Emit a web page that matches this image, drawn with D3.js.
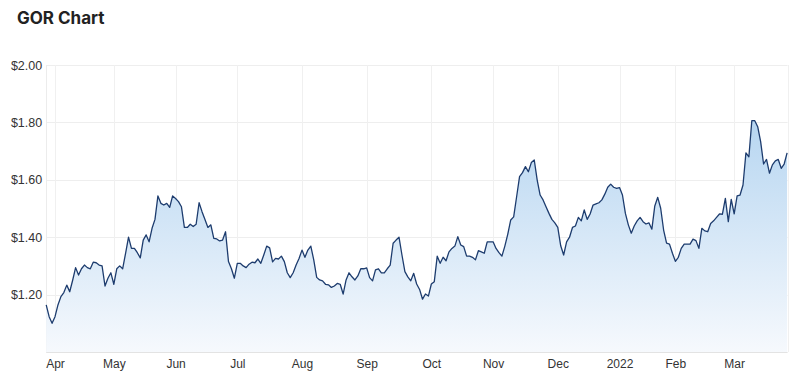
<!DOCTYPE html>
<html>
<head>
<meta charset="utf-8">
<script src="https://cdn.jsdelivr.net/npm/d3@7"></script>
<style>
  html, body { margin: 0; padding: 0; background: #ffffff; }
  svg { display: block; }
</style>
</head>
<body>
<svg id="chart" width="800" height="382"></svg>
<script>
// ---- Data (daily closes, trading-day order, late Mar 2021 -> late Mar 2022) ----
const prices = [
  1.164, 1.123, 1.100, 1.123, 1.164, 1.193, 1.207, 1.233, 1.210, 1.250,
  1.294, 1.268, 1.290, 1.303, 1.294, 1.290, 1.313, 1.311, 1.303, 1.300,
  1.230, 1.257, 1.276, 1.236, 1.290, 1.300, 1.290, 1.344, 1.400, 1.361,
  1.361, 1.346, 1.328, 1.390, 1.408, 1.384, 1.431, 1.462, 1.544, 1.518,
  1.512, 1.518, 1.504, 1.544, 1.535, 1.524, 1.506, 1.434, 1.434, 1.445,
  1.437, 1.445, 1.520, 1.489, 1.462, 1.434, 1.443, 1.396, 1.394, 1.387,
  1.390, 1.419, 1.315, 1.290, 1.257, 1.309, 1.309, 1.300, 1.294, 1.306,
  1.313, 1.311, 1.324, 1.309, 1.338, 1.369, 1.363, 1.314, 1.326, 1.324,
  1.334, 1.315, 1.276, 1.259, 1.276, 1.303, 1.326, 1.355, 1.330, 1.355,
  1.369, 1.321, 1.260, 1.251, 1.248, 1.236, 1.234, 1.225, 1.230, 1.239,
  1.236, 1.202, 1.251, 1.276, 1.262, 1.251, 1.265, 1.290, 1.290, 1.293,
  1.259, 1.248, 1.286, 1.290, 1.276, 1.276, 1.290, 1.303, 1.379, 1.390,
  1.400, 1.338, 1.280, 1.262, 1.248, 1.274, 1.237, 1.218, 1.184, 1.202,
  1.195, 1.237, 1.245, 1.334, 1.309, 1.330, 1.318, 1.349, 1.361, 1.369,
  1.402, 1.373, 1.367, 1.334, 1.334, 1.330, 1.321, 1.353, 1.349, 1.344,
  1.384, 1.384, 1.384, 1.361, 1.346, 1.334, 1.369, 1.411, 1.460, 1.471,
  1.541, 1.611, 1.625, 1.646, 1.628, 1.660, 1.669, 1.599, 1.547, 1.530,
  1.506, 1.483, 1.462, 1.450, 1.434, 1.370, 1.338, 1.384, 1.400, 1.434,
  1.439, 1.469, 1.457, 1.495, 1.462, 1.481, 1.512, 1.516, 1.520, 1.530,
  1.550, 1.574, 1.585, 1.574, 1.570, 1.573, 1.547, 1.483, 1.443, 1.414,
  1.439, 1.457, 1.469, 1.454, 1.446, 1.450, 1.428, 1.509, 1.539, 1.501,
  1.425, 1.379, 1.376, 1.344, 1.316, 1.330, 1.361, 1.376, 1.376, 1.376,
  1.393, 1.388, 1.361, 1.431, 1.422, 1.419, 1.448, 1.457, 1.469, 1.481,
  1.480, 1.535, 1.454, 1.532, 1.481, 1.544, 1.547, 1.582, 1.694, 1.680,
  1.806, 1.806, 1.785, 1.733, 1.655, 1.671, 1.623, 1.652, 1.666, 1.671,
  1.640, 1.655, 1.694
];

// month labels and the trading-day index where each month starts
const monthLabels = ["Apr", "May", "Jun", "Jul", "Aug", "Sep", "Oct", "Nov", "Dec", "2022", "Feb", "Mar"];
const monthIndex  = [3, 23, 44, 65, 87, 109, 131, 152, 174, 195, 214, 234];

// y ticks
const yTicks = [1.2, 1.4, 1.6, 1.8, 2.0];
const yDomain = [1.0, 2.0];

const chartTitle = "GOR Chart";

// ---- Layout ----
const svg = d3.select("#chart");
const plotL = 46.2, plotR = 787.6, plotT = 65, plotB = 352;

const x = d3.scaleLinear().domain([0, prices.length - 1]).range([plotL, plotR - 0.5]);
const y = d3.scaleLinear().domain(yDomain).range([plotB, plotT]);

// title
svg.append("text")
  .attr("x", 17).attr("y", 24)
  .attr("font-family", "Inter, 'Open Sans', sans-serif")
  .attr("font-weight", 700)
  .attr("font-size", 17)
  .attr("fill", "#222")
  .text(chartTitle);

// gradient
const defs = svg.append("defs");
const grad = defs.append("linearGradient")
  .attr("id", "areaGrad")
  .attr("gradientUnits", "userSpaceOnUse")
  .attr("x1", 0).attr("x2", 0)
  .attr("y1", y(d3.max(prices))).attr("y2", plotB);
grad.append("stop").attr("offset", "0%").attr("stop-color", "#b7d6f1");
grad.append("stop").attr("offset", "100%").attr("stop-color", "#f6f9fd");

// horizontal gridlines
const gGrid = svg.append("g");
gGrid.selectAll("line.h").data(yTicks).join("line")
  .attr("class", "h")
  .attr("x1", plotL).attr("x2", plotR)
  .attr("y1", d => Math.round(y(d)) + 0.5).attr("y2", d => Math.round(y(d)) + 0.5)
  .attr("stroke", "#eeeeee").attr("stroke-width", 1);

// vertical gridlines
gGrid.selectAll("line.v").data(monthIndex).join("line")
  .attr("class", "v")
  .attr("x1", d => Math.round(x(d)) + 0.5).attr("x2", d => Math.round(x(d)) + 0.5)
  .attr("y1", plotT).attr("y2", plotB)
  .attr("stroke", "#f0f0f0").attr("stroke-width", 1);

// plot edges
gGrid.append("line")
  .attr("x1", Math.round(plotL) + 0.5).attr("x2", Math.round(plotL) + 0.5)
  .attr("y1", plotT).attr("y2", plotB)
  .attr("stroke", "#ececec");
gGrid.append("line")
  .attr("x1", Math.round(plotR) + 0.5).attr("x2", Math.round(plotR) + 0.5)
  .attr("y1", plotT).attr("y2", plotB)
  .attr("stroke", "#f0f0f0");

// area
const area = d3.area()
  .x((d, i) => x(i))
  .y0(plotB)
  .y1(d => y(d));
svg.append("path")
  .datum(prices)
  .attr("d", area)
  .attr("fill", "url(#areaGrad)");

// line
const line = d3.line()
  .x((d, i) => x(i))
  .y(d => y(d));
svg.append("path")
  .datum(prices)
  .attr("d", line)
  .attr("fill", "none")
  .attr("stroke", "#1d3c6e")
  .attr("stroke-width", 1.3)
  .attr("stroke-linejoin", "round");

// bottom axis line
svg.append("line")
  .attr("x1", plotL).attr("x2", plotR)
  .attr("y1", plotB + 0.5).attr("y2", plotB + 0.5)
  .attr("stroke", "#e3e3e3");

// y labels
const yAxis = d3.axisLeft(y).tickValues(yTicks).tickSize(0).tickPadding(4)
  .tickFormat(d => "$" + d3.format(".2f")(d));
const gy = svg.append("g").attr("transform", `translate(${plotL},0)`).call(yAxis);
gy.select(".domain").remove();
gy.selectAll("text")
  .attr("font-family", "'Liberation Sans', Arial, sans-serif")
  .attr("font-size", 12.5)
  .attr("fill", "#333");

// x labels
const xAxis = d3.axisBottom(x).tickValues(monthIndex).tickSize(0).tickPadding(7)
  .tickFormat((d, i) => monthLabels[i]);
const gx = svg.append("g").attr("transform", `translate(0,${plotB})`).call(xAxis);
gx.select(".domain").remove();
gx.selectAll("text")
  .attr("font-family", "'Liberation Sans', Arial, sans-serif")
  .attr("font-size", 12)
  .attr("fill", "#333");
</script>
</body>
</html>
